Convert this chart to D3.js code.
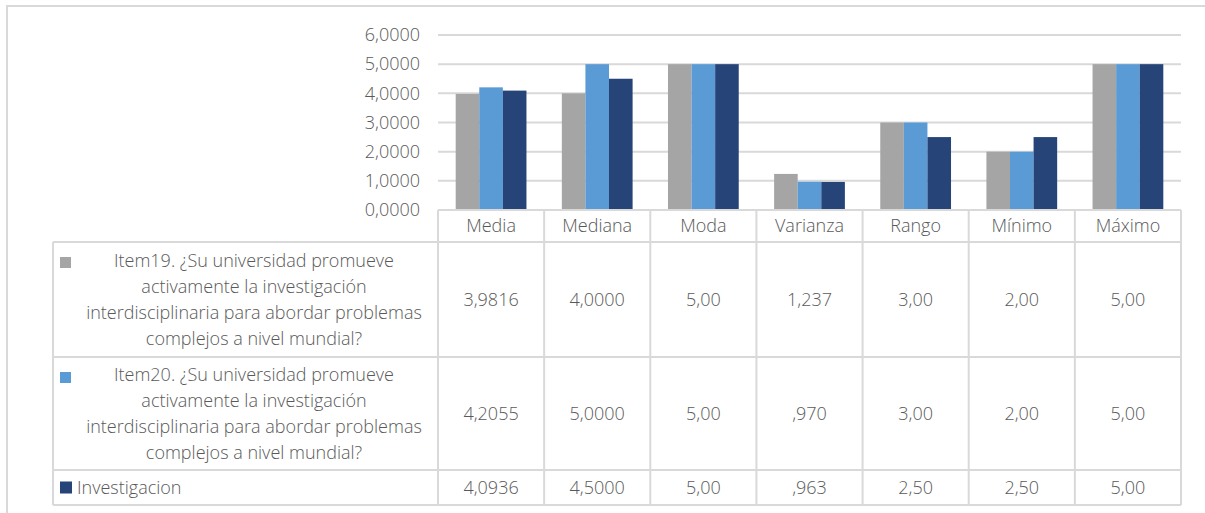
<!DOCTYPE html>
<html>
<head>
<meta charset="utf-8">
<script src="https://cdn.jsdelivr.net/npm/d3@7"></script>
<style>
  body { margin: 0; background: #fff; }
  text { font-family: "Open Sans", Lato, sans-serif; font-weight: 300; fill: #595959; }
</style>
</head>
<body>
<svg id="chart"></svg>
<script>
const W = 1205, H = 513;

// data
var categories = ["Media", "Mediana", "Moda", "Varianza", "Rango", "Mínimo", "Máximo"];
var seriesNames = [
  "Item19. ¿Su universidad promueve activamente la investigación interdisciplinaria para abordar problemas complejos a nivel mundial?",
  "Item20. ¿Su universidad promueve activamente la investigación interdisciplinaria para abordar problemas complejos a nivel mundial?",
  "Investigacion"
];
var nameLines = [
  ["Item19. ¿Su universidad promueve", "activamente la investigación", "interdisciplinaria para abordar problemas", "complejos a nivel mundial?"],
  ["Item20. ¿Su universidad promueve", "activamente la investigación", "interdisciplinaria para abordar problemas", "complejos a nivel mundial?"],
  ["Investigacion"]
];
var item19 = [3.9816, 4.0, 5.0, 1.237, 3.0, 2.0, 5.0];
var item20 = [4.2055, 5.0, 5.0, 0.970, 3.0, 2.0, 5.0];
var investigacion = [4.0936, 4.5, 5.0, 0.963, 2.5, 2.5, 5.0];
var item19Labels = ["3,9816", "4,0000", "5,00", "1,237", "3,00", "2,00", "5,00"];
var item20Labels = ["4,2055", "5,0000", "5,00", ",970", "3,00", "2,00", "5,00"];
var investigacionLabels = ["4,0936", "4,5000", "5,00", ",963", "2,50", "2,50", "5,00"];
var yTicks = [0, 1, 2, 3, 4, 5, 6];

var colors = ["#a5a5a5", "#5b9bd5", "#264478"];
var seriesValues = [item19, item20, investigacion];
var seriesLabels = [item19Labels, item20Labels, investigacionLabels];
var gridColor = "#d9d9d9";
var fs = "18px";

var svg = d3.select("#chart").attr("width", W).attr("height", H);

// outer chart border
svg.append("path")
  .attr("d", "M7," + (H + 5) + "V6H" + (W + 5))
  .attr("fill", "none").attr("stroke", gridColor).attr("stroke-width", 2);

var plotLeft = 438, plotRight = 1181, plotTop = 35, plotBottom = 210;
var tableLeft = 53;
var rowTops = [242, 357, 470, 505];

var x0 = d3.scaleBand().domain(categories).range([plotLeft, plotRight]).padding(0);
var bw = x0.bandwidth();
var barW = bw / 4.5;
var x1 = d3.scaleBand().domain(d3.range(3)).range([barW * 0.75, bw - barW * 0.75]).padding(0);

var y = d3.scaleLinear().domain([0, 6]).range([plotBottom, plotTop]);

// gridlines
svg.append("g").selectAll("line").data(yTicks.slice(1)).enter().append("line")
  .attr("x1", plotLeft).attr("x2", plotRight)
  .attr("y1", d => y(d)).attr("y2", d => y(d))
  .attr("stroke", gridColor).attr("stroke-width", 2);

// y axis labels
var yAxis = svg.append("g")
  .attr("transform", "translate(" + (plotLeft - 18) + ",0)")
  .call(d3.axisLeft(y).tickValues(yTicks).tickSize(0).tickPadding(0)
    .tickFormat(d => d3.format(".4f")(d).replace(".", ",")));
yAxis.select(".domain").remove();
yAxis.selectAll("text").style("font-size", fs).style("font-family", "'Open Sans', Lato, sans-serif")
  .style("font-weight", 300).attr("fill", "#595959");

// bars
var groups = svg.append("g").selectAll("g").data(categories).enter().append("g")
  .attr("transform", d => "translate(" + x0(d) + ",0)");
groups.selectAll("rect")
  .data((d, i) => seriesValues.map((s, k) => ({ k: k, v: s[i] })))
  .enter().append("rect")
  .attr("x", d => x1(d.k))
  .attr("width", x1.bandwidth())
  .attr("y", d => y(d.v))
  .attr("height", d => y(0) - y(d.v))
  .attr("fill", d => colors[d.k]);

// data table lines
var tbl = svg.append("g").attr("stroke", gridColor).attr("stroke-width", 2).attr("fill", "none");
tbl.append("line").attr("x1", plotLeft).attr("x2", plotRight).attr("y1", plotBottom).attr("y2", plotBottom);
rowTops.forEach(function(ry) {
  tbl.append("line").attr("x1", tableLeft).attr("x2", plotRight).attr("y1", ry).attr("y2", ry);
});
tbl.append("line").attr("x1", tableLeft).attr("x2", tableLeft).attr("y1", rowTops[0]).attr("y2", rowTops[3]);
categories.forEach(function(c) {
  tbl.append("line").attr("x1", x0(c)).attr("x2", x0(c)).attr("y1", plotBottom).attr("y2", rowTops[3]);
});
tbl.append("line").attr("x1", plotRight).attr("x2", plotRight).attr("y1", plotBottom).attr("y2", rowTops[3]);

// category labels
svg.append("g").selectAll("text").data(categories).enter().append("text")
  .attr("x", d => x0(d) + bw / 2).attr("y", (plotBottom + rowTops[0]) / 2)
  .attr("dy", "0.35em").attr("text-anchor", "middle")
  .style("font-size", fs).text(d => d);

// rows
seriesNames.forEach(function(name, k) {
  var top = rowTops[k], bot = rowTops[k + 1], mid = (top + bot) / 2;
  var g = svg.append("g");
  var lines = nameLines[k];
  var lh = 26;
  if (lines.length > 1) {
    g.append("rect").attr("x", 60).attr("y", top + 15).attr("width", 11).attr("height", 11).attr("fill", colors[k]);
    lines.forEach(function(l, j) {
      g.append("text").attr("x", 254).attr("y", mid + (j - (lines.length - 1) / 2) * lh)
        .attr("dy", "0.35em").attr("text-anchor", "middle").style("font-size", fs).text(l);
    });
  } else {
    g.append("rect").attr("x", 60).attr("y", mid - 6).attr("width", 12).attr("height", 12).attr("fill", colors[k]);
    g.append("text").attr("x", 77).attr("y", mid).attr("dy", "0.35em").style("font-size", fs).text(lines[0]);
  }
  g.append("title").text(name);
  categories.forEach(function(c, i) {
    g.append("text").attr("x", x0(c) + bw / 2).attr("y", mid).attr("dy", "0.35em")
      .attr("text-anchor", "middle").style("font-size", fs).text(seriesLabels[k][i]);
  });
});
</script>
</body>
</html>
